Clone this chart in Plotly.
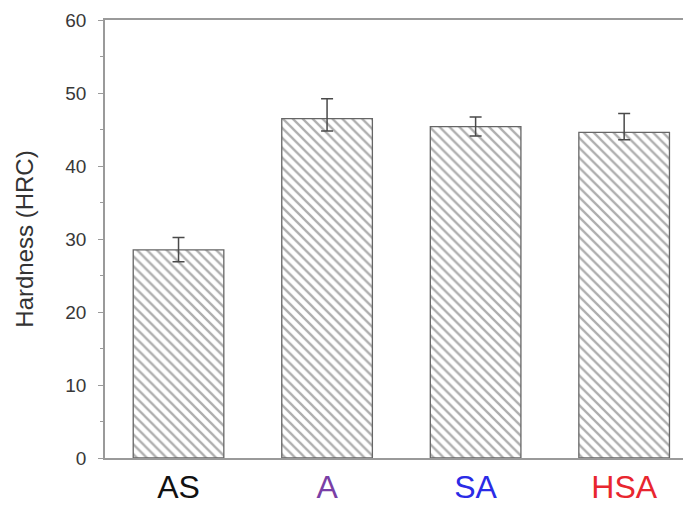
import plotly.graph_objects as go

categories = ["AS", "A", "SA", "HSA"]
label_colors = ["#111111", "#7a3fa6", "#2b2be6", "#e8262f"]
hardness = [28.5, 46.5, 45.4, 44.6]
err_plus = [1.7, 2.7, 1.3, 2.6]
err_minus = [1.6, 1.7, 1.3, 1.0]
y_ticks = [0, 10, 20, 30, 40, 50, 60]

fig = go.Figure()
fig.add_trace(go.Bar(
    x=categories,
    y=hardness,
    width=0.61,
    marker=dict(
        color="white",
        line=dict(color="#666666", width=1.3),
        pattern=dict(shape="\\", size=7, solidity=0.33, fgcolor="#5e5e5e", bgcolor="white"),
    ),
    error_y=dict(
        type="data", symmetric=False, array=err_plus, arrayminus=err_minus,
        color="#4a4a4a", thickness=1.5, width=6,
    ),
    showlegend=False,
))

ticktext = [f'<span style="color:{c}">{t}</span>' for t, c in zip(categories, label_colors)]

fig.update_layout(
    width=683, height=500,
    margin=dict(l=97, r=0, t=12, b=50),
    paper_bgcolor="white", plot_bgcolor="white",
    font=dict(family="Liberation Sans, Arial, sans-serif"),
    xaxis=dict(
        type="category", range=[-0.495, 3.45],
        tickvals=categories, ticktext=ticktext,
        tickfont=dict(size=32),
        showline=True, linecolor="#9a9a9a", linewidth=1.5, mirror=True,
        ticks="", showgrid=False, zeroline=False,
    ),
    yaxis=dict(
        range=[0, 60], tickvals=y_ticks,
        tickfont=dict(size=19, color="#383838"),
        showline=True, linecolor="#9a9a9a", linewidth=1.5,
        ticks="outside", ticklen=5, tickwidth=1.2, tickcolor="#9a9a9a",
        ticklabelstandoff=8,
        minor=dict(dtick=5, ticks="outside", ticklen=3, tickcolor="#9a9a9a", tickwidth=1),
        showgrid=False, zeroline=False,
        title=dict(text="Hardness (HRC)", font=dict(size=24, color="#333333"), standoff=25),
    ),
)

fig.write_html("out.html")
